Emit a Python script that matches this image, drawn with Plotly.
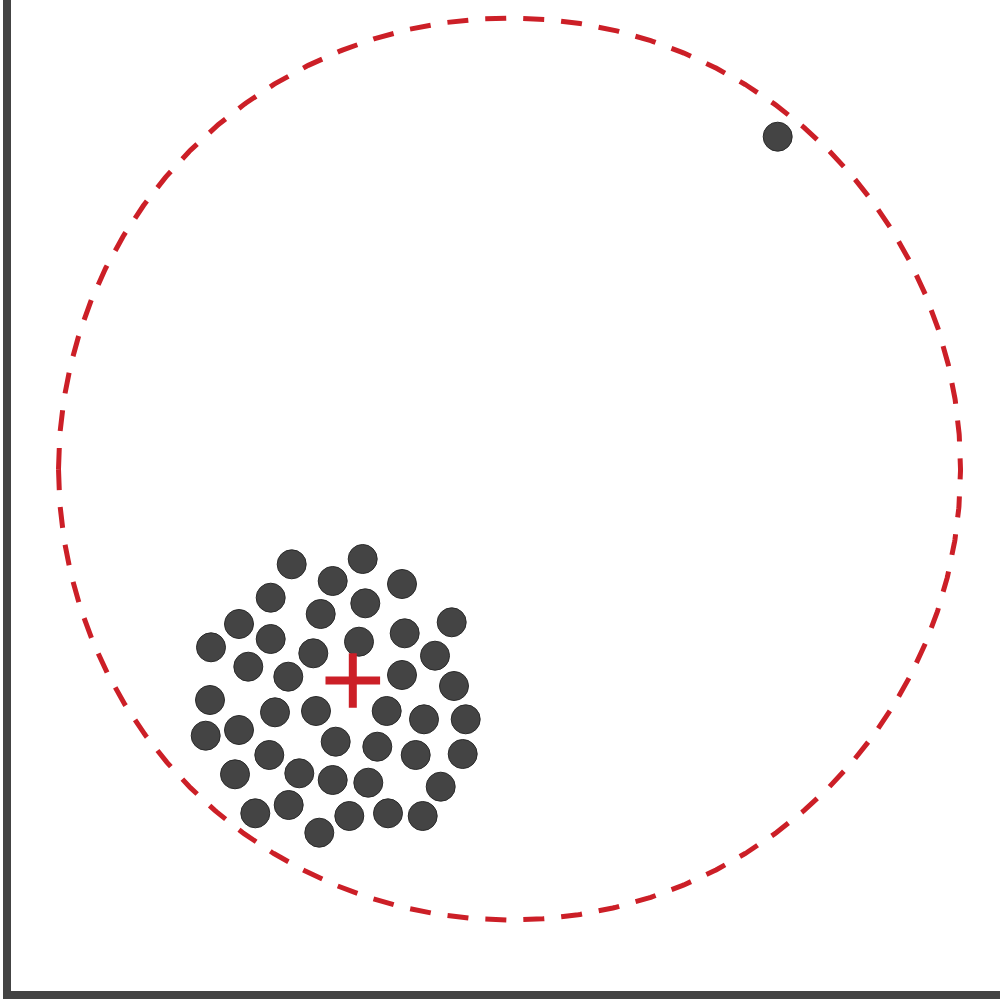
import numpy as np
import plotly.graph_objects as go

# Point cloud (data units)
pts_x = [280.7, 351.7, 321.7, 391, 259.7, 354.3, 309.7, 440.7, 228, 393.7, 200, 259.7, 348, 302.3, 424,
         237.3, 391, 277.3, 443, 199, 264, 305, 375.7, 413, 454.7, 194.7, 228, 324.7, 366.3, 258.3,
         404.7, 451.7, 224, 288.3, 321.7, 357.3, 429.7, 277.7, 244.3, 338.3, 377, 411.7, 308.3, 766.7]
pts_y = [426.7, 432, 410, 407, 393.3, 387.7, 377, 368.7, 367, 357.7, 343.7, 352, 349.3, 337.7, 335.3,
         324.3, 316, 314.3, 305, 291, 278.7, 280, 280, 271.7, 271.7, 255.3, 261, 249.3, 244.3, 236,
         236, 237, 216.7, 217.7, 211, 208.3, 204.3, 186, 177.7, 175, 177.7, 175, 158.3, 854.3]

# Cluster centre marker
centre_x = [341.8]
centre_y = [310.5]

# Enclosing circle
circle_cx = 498.5
circle_cy = 522
circle_r = 451

RED = "#cc1f27"
DARK = "#444444"

theta = np.linspace(np.pi, np.pi - 2 * np.pi, 1441)
circ_x = circle_cx + circle_r * np.cos(theta)
circ_y = circle_cy + circle_r * np.sin(theta)

fig = go.Figure()
fig.add_trace(go.Scatter(x=circ_x, y=circ_y, mode="lines",
                         line=dict(color=RED, width=5, dash="21px,17px"),
                         hoverinfo="skip", showlegend=False))
fig.add_trace(go.Scatter(x=pts_x, y=pts_y, mode="markers",
                         marker=dict(size=29, color=DARK, line=dict(color="#2a2a2a", width=1)),
                         showlegend=False))
fig.add_trace(go.Scatter(x=centre_x, y=centre_y, mode="markers",
                         marker=dict(symbol="cross-thin", size=39, line=dict(color=RED, width=8)),
                         showlegend=False))

fig.update_layout(
    width=1000, height=1000,
    margin=dict(l=11, r=0, t=0, b=9),
    paper_bgcolor="white", plot_bgcolor="white",
    xaxis=dict(range=[0, 989], showgrid=False, zeroline=False, showticklabels=False,
               ticks="", showline=True, linewidth=8, linecolor=DARK),
    yaxis=dict(range=[0, 991], showgrid=False, zeroline=False, showticklabels=False,
               ticks="", showline=True, linewidth=8, linecolor=DARK),
)

fig.write_html("out.html")
